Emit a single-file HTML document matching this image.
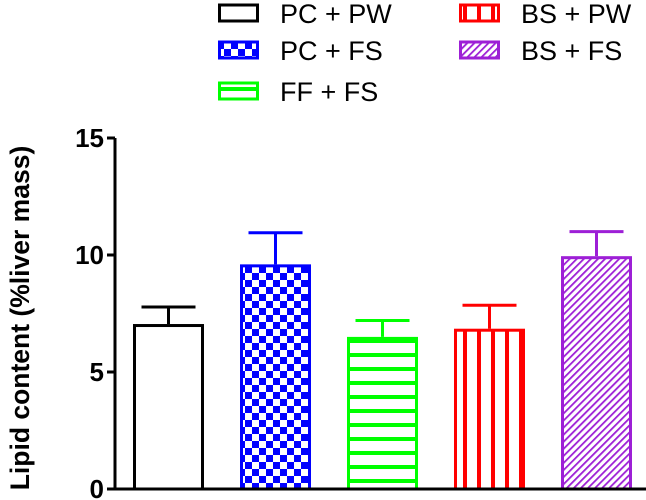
<!DOCTYPE html>
<html><head><meta charset="utf-8"><style>
body{margin:0;background:#fff;}
svg{display:block;font-family:"Liberation Sans",Arial,sans-serif;}
</style></head><body>
<svg id="chart" width="646" height="500" viewBox="0 0 646 500">
<defs>
<pattern id="p-check" width="14" height="14" patternUnits="userSpaceOnUse" x="133" y="0">
<rect width="14" height="14" fill="#fff"/><rect width="7" height="7" fill="#0000ff"/><rect x="7" y="7" width="7" height="7" fill="#0000ff"/></pattern>
<pattern id="p-horiz" width="14" height="14" patternUnits="userSpaceOnUse" y="3">
<rect width="14" height="14" fill="#fff"/><rect width="14" height="4" fill="#00ff00"/></pattern>
<pattern id="p-vert" width="14" height="14" patternUnits="userSpaceOnUse" x="1">
<rect width="14" height="14" fill="#fff"/><rect width="4" height="14" fill="#ff0000"/></pattern>
<pattern id="p-diag" width="5" height="5" patternUnits="userSpaceOnUse" patternTransform="rotate(45)">
<rect width="5" height="5" fill="#fff"/><rect width="1.8" height="5" fill="#9d1fd6"/></pattern>
</defs>
<g id="bars"></g>
<g id="axes"></g>
<g id="legend"></g>
<text transform="translate(29,318) rotate(-90)" text-anchor="middle" font-size="26.5" font-weight="bold">Lipid content (%liver mass)</text>
</svg>
<script>
const categories=["PC + PW","PC + FS","FF + FS","BS + PW","BS + FS"];
const values=[7.05,9.6,6.5,6.85,9.95];
const errors=[7.78,10.95,7.2,7.85,11.0];
const yTicks=[0,5,10,15];
const colors=["#000000","#0000ff","#00ff00","#ff0000","#9d1fd6"];
const fills=["#ffffff","url(#p-check)","url(#p-horiz)","url(#p-vert)","url(#p-diag)"];
const NS="http://www.w3.org/2000/svg";
const y0=489,y15=138,xAxis=115;
function y(v){return y0-(y0-y15)*v/15;}
function x(i){return 133+i*107;}
const bw=71;
function mk(tag,attrs,parent){const e=document.createElementNS(NS,tag);for(const k in attrs)e.setAttribute(k,attrs[k]);parent.appendChild(e);return e;}
const bars=document.getElementById('bars');
values.forEach((v,i)=>{
  const cx=x(i)+bw/2;
  const eb=mk('path',{d:`M${cx},${y(v)} V${y(errors[i])} M${cx-27},${y(errors[i])} H${cx+27}`,stroke:colors[i],'stroke-width':3,fill:'none'},bars);
  
  
  const r=mk('rect',{x:x(i)+1.5,y:y(v)+1.5,width:bw-3,height:y0-y(v)-1.5,fill:fills[i],stroke:colors[i],'stroke-width':3},bars);
  
  
});
const axes=document.getElementById('axes');
const ax=mk('path',{d:`M${xAxis},${y(15)} V${y0} H646`,stroke:'#000','stroke-width':3,fill:'none'},axes);


yTicks.forEach(t=>{
  const tk=mk('line',{x1:xAxis-8,x2:xAxis,y1:y(t),y2:y(t),stroke:'#000','stroke-width':3},axes);
  
  
  const tl=mk('text',{x:xAxis-11,y:y(t)+9,'text-anchor':'end','font-size':26,'font-weight':'bold'},axes);
  tl.textContent=t;
  
  
});
const legend=document.getElementById('legend');
const pos=[[218,13],[218,50],[218,91],[459,13],[459,50]];
categories.forEach((c,i)=>{
  const [lx,ly]=pos[i];
  const r=mk('rect',{x:lx+1.5,y:ly-8,width:38,height:16,fill:fills[i],stroke:colors[i],'stroke-width':3},legend);
  
  
  const t=mk('text',{x:lx+62,y:ly+10,'font-size':27},legend);
  t.textContent=c;
  
  
});
</script>
</body></html>
